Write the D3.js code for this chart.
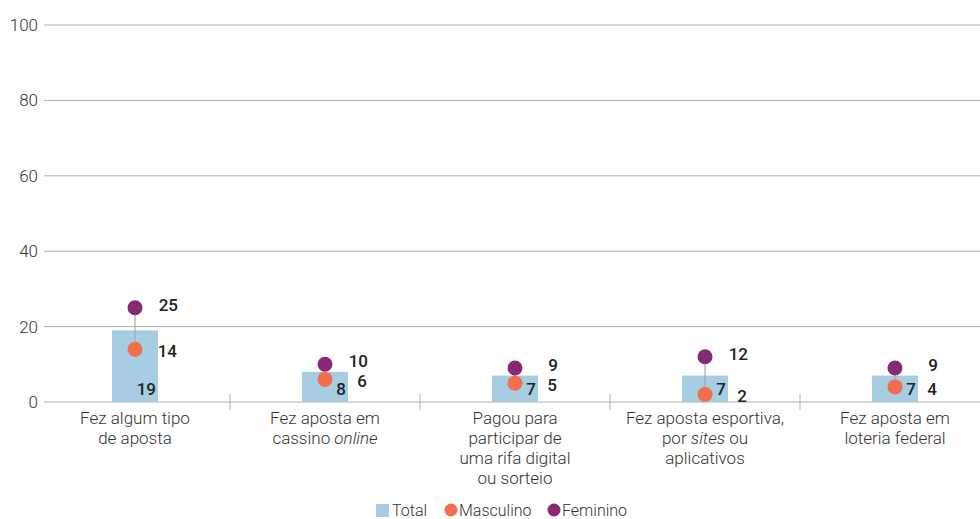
<!DOCTYPE html>
<html>
<head>
<meta charset="utf-8">
<script src="https://cdn.jsdelivr.net/npm/d3@7"></script>
<style>
  body { margin: 0; background: #ffffff; }
  svg { display: block; font-family: 'Roboto', 'Liberation Sans', sans-serif; }
</style>
</head>
<body>
<div id="chart"></div>
<script>
// Data.
const categories = [
  ['Fez algum tipo', 'de aposta'],
  ['Fez aposta em', 'cassino <i>online</i>'],
  ['Pagou para', 'participar de', 'uma rifa digital', 'ou sorteio'],
  ['Fez aposta esportiva,', 'por <i>sites</i> ou', 'aplicativos'],
  ['Fez aposta em', 'loteria federal']
];
const total = [19, 8, 7, 7, 7];
const masculino = [14, 6, 5, 2, 4];
const feminino = [25, 10, 9, 12, 9];
const yTicks = [0, 20, 40, 60, 80, 100];

const colors = {
  total: '#a6cde1',
  masculino: '#f26e4f',
  feminino: '#862a75',
  grid: '#b0b0b0',
  text: '#333333'
};

const dimensions = {
  width: 980,
  height: 519,
  left: 40,
  right: 990,
  top: 25,
  bottom: 402
};

const svg = d3.select('#chart')
      .append('svg')
      .attr('width', dimensions.width)
      .attr('height', dimensions.height);

const idx = d3.range(categories.length);

const x = d3.scaleBand()
      .domain(idx)
      .range([dimensions.left, dimensions.right]);

const y = d3.scaleLinear()
      .domain([0, 100])
      .range([dimensions.bottom, dimensions.top]);

const cx = (i) => x(i) + x.bandwidth() / 2;

// Gridlines and y labels.
const grid = svg.append('g');
grid.selectAll('line')
  .data(yTicks)
  .join('line')
  .attr('x1', 44)
  .attr('x2', dimensions.width)
  .attr('y1', d => y(d))
  .attr('y2', d => y(d))
  .attr('stroke', colors.grid)
  .attr('stroke-width', 1);

grid.selectAll('text')
  .data(yTicks)
  .join('text')
  .attr('x', 38)
  .attr('y', d => y(d))
  .attr('dy', '0.35em')
  .attr('text-anchor', 'end')
  .attr('fill', colors.text)
  .style('font-size', '17px')
  .style('font-weight', 300)
  .text(d => d);

// Category separators.
svg.append('g')
  .selectAll('line')
  .data(idx.slice(1))
  .join('line')
  .attr('x1', d => x(d))
  .attr('x2', d => x(d))
  .attr('y1', y(0) - 8)
  .attr('y2', y(0) + 8)
  .attr('stroke', colors.grid)
  .attr('stroke-width', 1);

// Bars.
const barWidth = 46;
svg.append('g')
  .selectAll('rect')
  .data(total)
  .join('rect')
  .attr('x', (d, i) => cx(i) - barWidth / 2)
  .attr('y', d => y(d))
  .attr('width', barWidth)
  .attr('height', d => y(0) - y(d))
  .attr('fill', colors.total);

// Connectors.
svg.append('g')
  .selectAll('line')
  .data(idx)
  .join('line')
  .attr('x1', d => cx(d))
  .attr('x2', d => cx(d))
  .attr('y1', d => y(feminino[d]))
  .attr('y2', d => y(masculino[d]))
  .attr('stroke', '#a8a8a8')
  .attr('stroke-width', 1.2);

// Dots.
const r = 7.5;
svg.append('g')
  .selectAll('circle')
  .data(masculino)
  .join('circle')
  .attr('cx', (d, i) => cx(i))
  .attr('cy', d => y(d))
  .attr('r', r)
  .attr('fill', colors.masculino);

svg.append('g')
  .selectAll('circle')
  .data(feminino)
  .join('circle')
  .attr('cx', (d, i) => cx(i))
  .attr('cy', d => y(d))
  .attr('r', r)
  .attr('fill', colors.feminino);

// Value labels.
const labels = svg.append('g')
      .attr('fill', '#222222')
      .style('font-size', '17px')
      .style('font-weight', 500);

labels.selectAll('text.fem')
  .data(feminino)
  .join('text')
  .attr('class', 'fem')
  .attr('x', (d, i) => cx(i) + 43)
  .attr('y', d => y(d) - 3)
  .attr('dy', '0.35em')
  .attr('text-anchor', 'end')
  .text(d => d);

labels.selectAll('text.mas')
  .data(masculino)
  .join('text')
  .attr('class', 'mas')
  .attr('x', (d, i) => cx(i) + 42)
  .attr('y', d => y(d) + 2)
  .attr('dy', '0.35em')
  .attr('text-anchor', 'end')
  .text(d => d);

labels.selectAll('text.tot')
  .data(total)
  .join('text')
  .attr('class', 'tot')
  .attr('x', (d, i) => cx(i) + 21)
  .attr('y', y(0) - 7)
  .attr('text-anchor', 'end')
  .text(d => d);

// Category labels.
svg.append('g')
  .selectAll('text')
  .data(categories)
  .join('text')
  .attr('text-anchor', 'middle')
  .attr('fill', colors.text)
  .style('font-size', '17px')
  .style('font-weight', 300)
  .each(function (lines, i) {
    const t = d3.select(this);
    lines.forEach((line, j) => {
      const tspan = t.append('tspan')
            .attr('x', cx(i))
            .attr('y', 424 + j * 20);
      const parts = line.split(/(<i>.*?<\/i>)/);
      parts.filter(p => p.length).forEach((p) => {
        if (p.startsWith('<i>')) {
          tspan.append('tspan').style('font-style', 'italic').text(p.replace(/<\/?i>/g, ''));
        } else {
          tspan.append('tspan').text(p);
        }
      });
    });
  });

// Legend.
const legend = svg.append('g')
      .style('font-size', '16px')
      .style('font-weight', 300)
      .attr('fill', colors.text);

legend.append('rect')
  .attr('x', 376)
  .attr('y', 504)
  .attr('width', 13)
  .attr('height', 13)
  .attr('fill', colors.total);
legend.append('text').attr('x', 392).attr('y', 516).text('Total');

legend.append('circle')
  .attr('cx', 451)
  .attr('cy', 510)
  .attr('r', 6.5)
  .attr('fill', colors.masculino);
legend.append('text').attr('x', 459).attr('y', 516).text('Masculino');

legend.append('circle')
  .attr('cx', 554)
  .attr('cy', 510)
  .attr('r', 6.5)
  .attr('fill', colors.feminino);
legend.append('text').attr('x', 562).attr('y', 516).text('Feminino');
</script>
</body>
</html>
